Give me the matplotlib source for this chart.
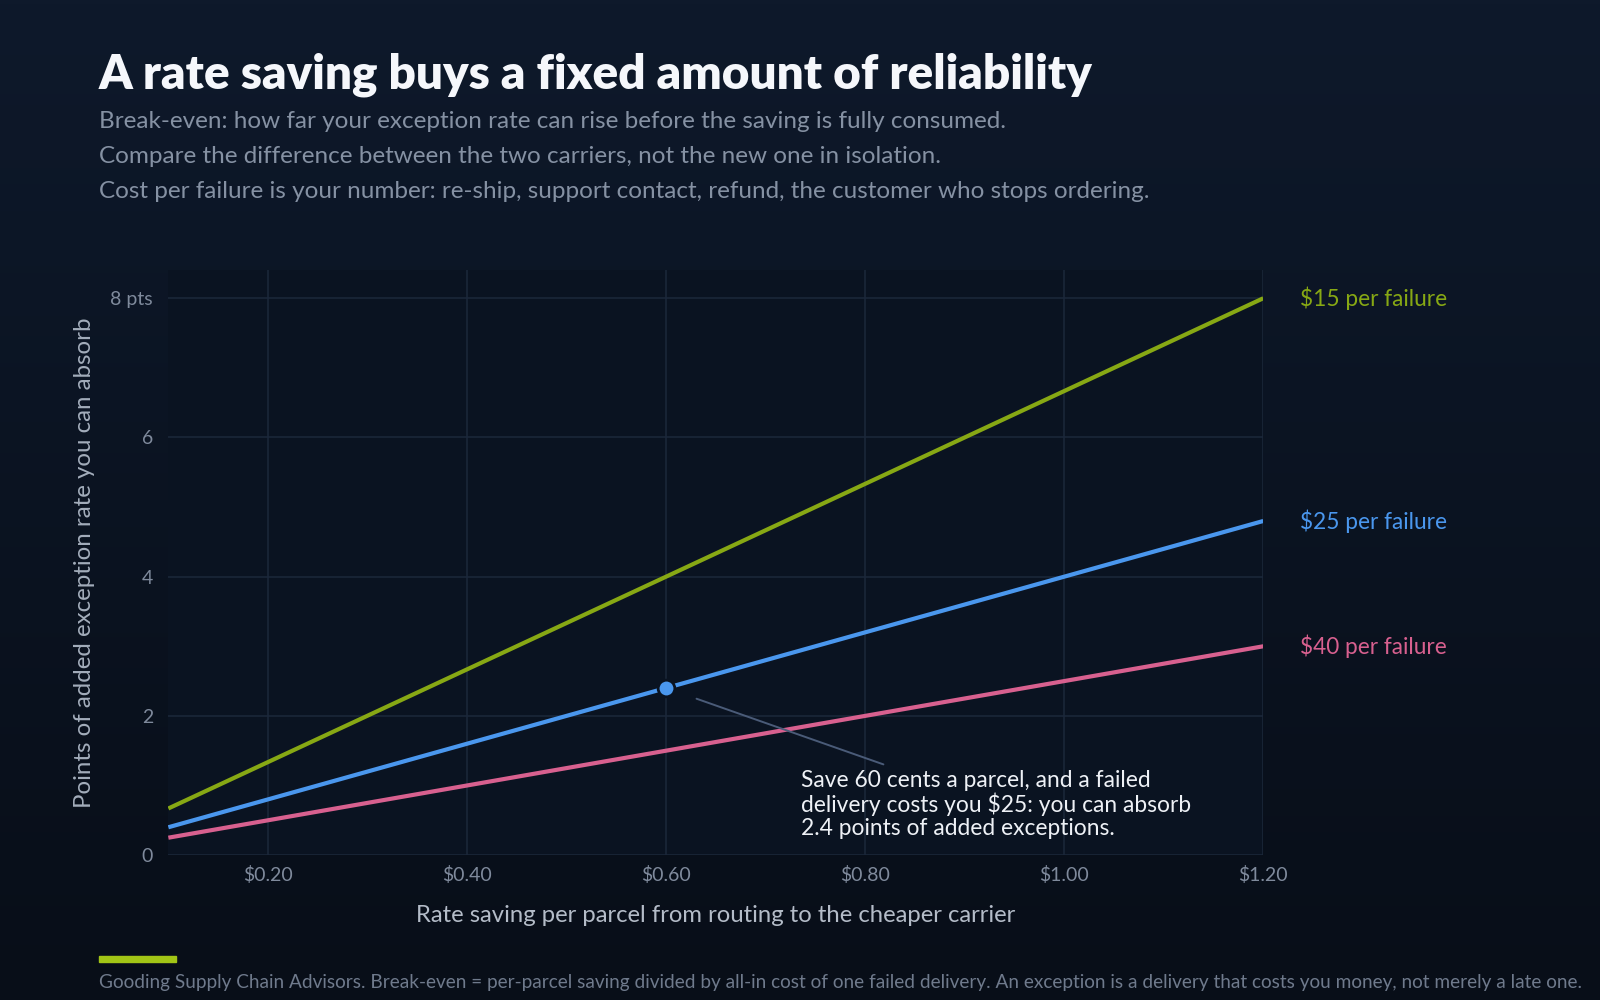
import numpy as np
import matplotlib
matplotlib.use("Agg")
import matplotlib.pyplot as plt
from matplotlib.colors import LinearSegmentedColormap

# data: break-even points vs per-parcel saving
savings = [0.10, 0.60, 1.20]
cost_labels = ["$15 per failure", "$25 per failure", "$40 per failure"]
points_15 = [0.67, 4.0, 8.0]
points_25 = [0.40, 2.4, 4.8]
points_40 = [0.25, 1.5, 3.0]
highlight_x = 0.60
highlight_y = 2.4
x_ticks = [0.20, 0.40, 0.60, 0.80, 1.00, 1.20]
x_ticklabels = ["$0.20", "$0.40", "$0.60", "$0.80", "$1.00", "$1.20"]
y_ticks = [0, 2, 4, 6, 8]
y_ticklabels = ["0", "2", "4", "6", "8 pts"]

series = [points_15, points_25, points_40]
colors = ["#87a814", "#4a97ee", "#d8608f"]

plt.rcParams["font.family"] = ["Lato", "DejaVu Sans"]

# layout is measured on a 1568x980 view of the reference
W, H = 1568, 980
fig = plt.figure(figsize=(16, 10), dpi=100)

# background gradient
bg = fig.add_axes([0, 0, 1, 1])
cmap = LinearSegmentedColormap.from_list("bg", ["#0e192b", "#080e18"])
bg.imshow(np.linspace(0, 1, 256).reshape(-1, 1), aspect="auto", cmap=cmap,
          extent=[0, 1, 0, 1])
bg.set_axis_off()


def fx(px):
    return px / W


def fy(py):
    return 1 - py / H


left, right, top, bottom = 165, 1238, 265, 838
ax = fig.add_axes([fx(left), fy(bottom), fx(right - left), (bottom - top) / H])
ax.set_facecolor("#0a1321")
ax.set_xlim(0.10, 1.20)
ax.set_ylim(0, 8.4)
for s in ax.spines.values():
    s.set_visible(False)

ax.set_xticks(x_ticks)
ax.set_xticklabels(x_ticklabels)
ax.set_yticks(y_ticks)
ax.set_yticklabels(y_ticklabels)
ax.tick_params(length=0, colors="#7f8a9c", labelsize=14)
ax.tick_params(axis="x", pad=8)
ax.tick_params(axis="y", pad=11)
ax.grid(True, color="#1b283b", linewidth=1.1)
ax.set_axisbelow(True)

for vals, c, lab in zip(series, colors, cost_labels):
    ax.plot(savings, vals, color=c, linewidth=3, solid_capstyle="butt", zorder=3)
    ax.text(1.237, vals[-1], lab, color=c, fontsize=16.3, va="center",
            ha="left", clip_on=False)

ax.plot([highlight_x], [highlight_y], "o", color="#4a97ee", markersize=12,
        markeredgecolor="#0a1321", markeredgewidth=2, zorder=5)

# annotation leader line and text
ax.annotate("", xy=(0.628, 2.26), xytext=(0.821, 1.29),
            arrowprops=dict(arrowstyle="-", color="#4a5b78", lw=1.4))
ax.text(0.7356, 1.22,
        "Save 60 cents a parcel, and a failed\ndelivery costs you $25: you can absorb\n2.4 points of added exceptions.",
        color="#eef1f6", fontsize=16.4, va="top", ha="left", linespacing=1.08)

ax.set_xlabel("Rate saving per parcel from routing to the cheaper carrier",
              color="#b4bcc8", fontsize=17.2, labelpad=15)
ax.set_ylabel("Points of added exception rate you can absorb",
              color="#a3adbb", fontsize=17.3, labelpad=11)

fig.text(fx(97), fy(73), "A rate saving buys a fixed amount of reliability",
         color="#f5f7fb", fontsize=34.3, fontweight="heavy", va="center")
subs = [
    "Break-even: how far your exception rate can rise before the saving is fully consumed.",
    "Compare the difference between the two carriers, not the new one in isolation.",
    "Cost per failure is your number: re-ship, support contact, refund, the customer who stops ordering.",
]
for i, s in enumerate(subs):
    fig.text(fx(97), fy(119 + 34.5 * i), s, color="#8591a3", fontsize=17.5,
             va="center")

fig.patches.append(plt.Rectangle((fx(97), fy(943)), fx(75), 6 / H,
                                 transform=fig.transFigure, color="#a2c516"))
fig.text(fx(97), fy(963),
         "Gooding Supply Chain Advisors. Break-even = per-parcel saving divided by all-in cost of one failed delivery. An exception is a delivery that costs you money, not merely a late one.",
         color="#6f7a8c", fontsize=13.7, va="center")

fig.savefig("out.png", dpi=100, facecolor="#0b1322")
